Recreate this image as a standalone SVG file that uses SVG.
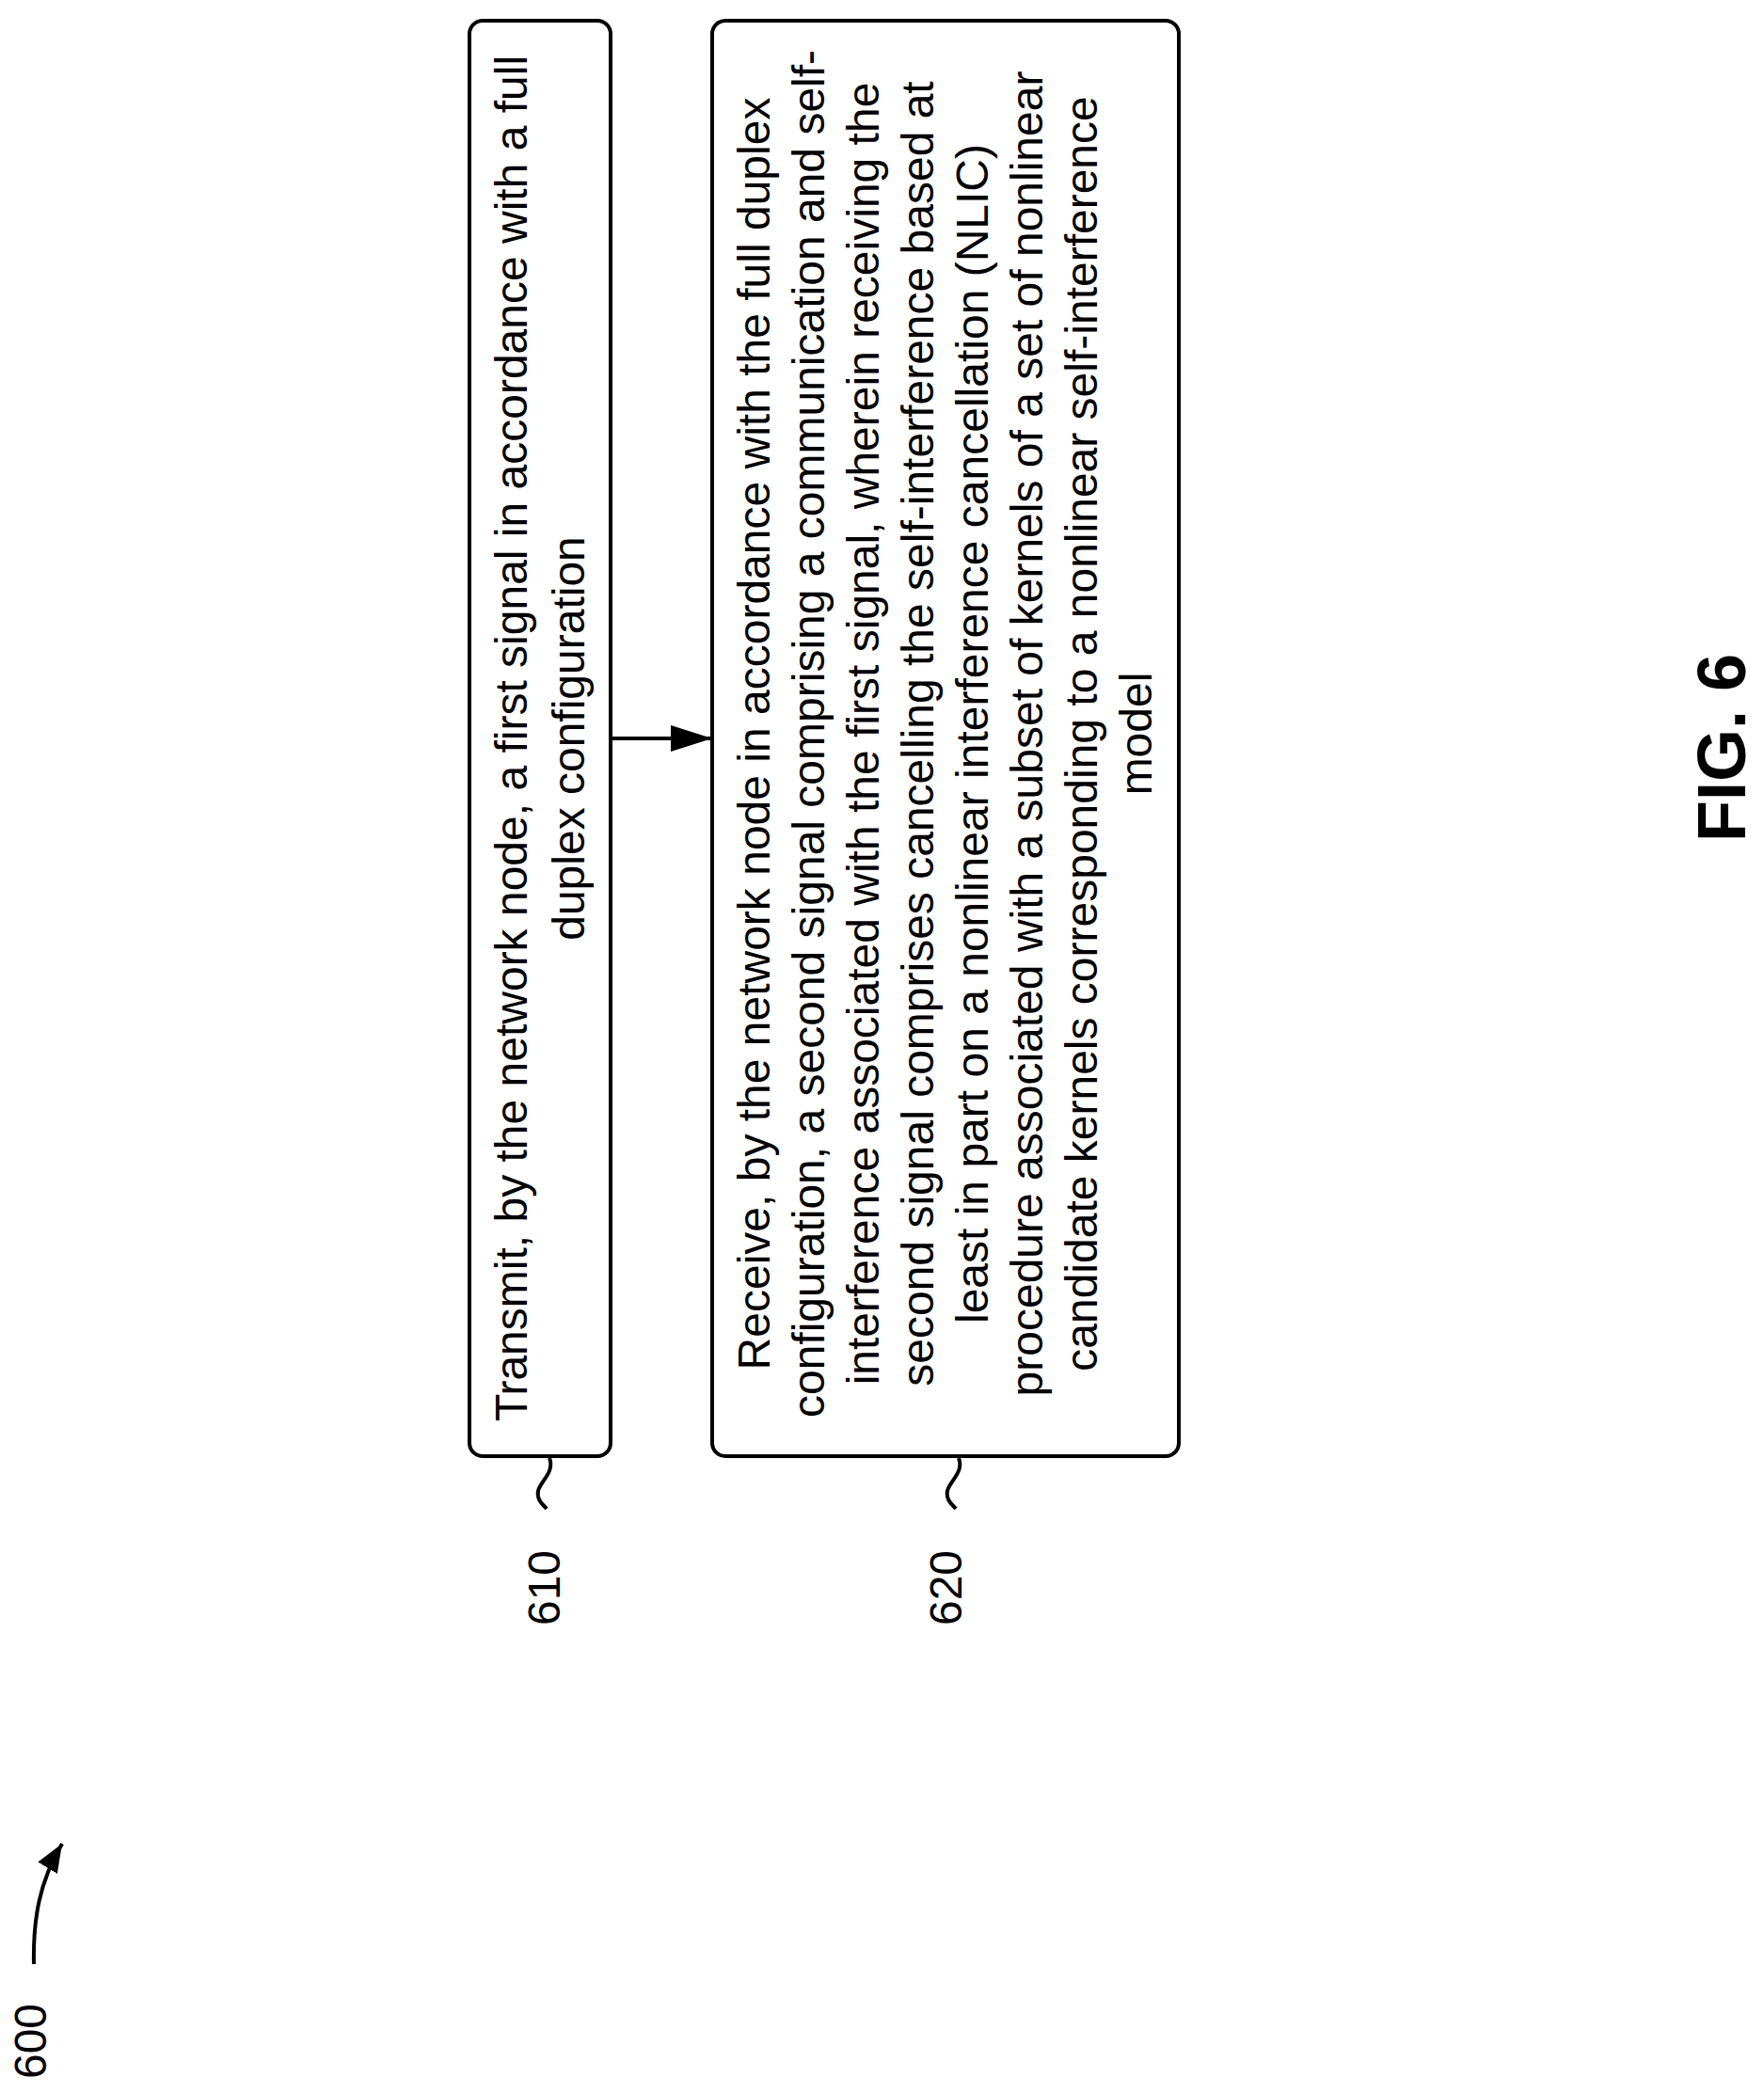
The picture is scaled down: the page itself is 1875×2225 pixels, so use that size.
<svg xmlns="http://www.w3.org/2000/svg" width="1875" height="2225" viewBox="0 0 1875 2225">
<style>
.box{fill:#fff;stroke:#000;stroke-width:4}
.t{font-family:"Liberation Sans",Arial,sans-serif;font-size:48px;fill:#000;text-anchor:middle}
.ln{fill:none;stroke:#000;stroke-width:4}
</style>
<defs>
<marker id="ah2" markerWidth="44" markerHeight="28" refX="44" refY="14" orient="auto" markerUnits="userSpaceOnUse"><path d="M0,0L44,14L0,28z" fill="#000"/></marker>
<marker id="ah3" markerWidth="30" markerHeight="24" refX="30" refY="12" orient="auto" markerUnits="userSpaceOnUse"><path d="M0,0L30,12L0,24z" fill="#000"/></marker>
</defs>
<g id="n610">
<rect class="box" x="499" y="22" width="150" height="1526" rx="14"/>
<g transform="translate(0,785) rotate(-90)">
<text class="t" x="0" y="560">Transmit, by the network node,  a first signal in accordance with a full</text>
<text class="t" x="0" y="621">duplex configuration</text>
</g>
</g>
<g id="n620">
<rect class="box" x="757" y="22" width="496" height="1526" rx="14"/>
<g transform="translate(0,780) rotate(-90)">
<text class="t" x="0" y="818">Receive, by the network node in accordance with the full duplex</text>
<text class="t" x="0" y="876">configuration, a second signal comprising a communication and self-</text>
<text class="t" x="0" y="934">interference associated with the first signal, wherein receiving the</text>
<text class="t" x="0" y="992">second signal comprises cancelling the self-interference based at</text>
<text class="t" x="0" y="1050">least in part on a nonlinear interference cancellation (NLIC)</text>
<text class="t" x="0" y="1108">procedure associated with a subset of kernels of a set of nonlinear</text>
<text class="t" x="0" y="1166">candidate kernels corresponding to a nonlinear self-interference</text>
<text class="t" x="0" y="1224">model</text>
</g>
</g>
<g id="labels">
<text class="t" transform="translate(595,1688) rotate(-90)" x="0" y="0">610</text>
<text class="t" transform="translate(1022,1688) rotate(-90)" x="0" y="0">620</text>
<text class="t" transform="translate(49,2170) rotate(-90)" x="0" y="0">600</text>
<text transform="translate(1855,795) rotate(-90)" x="0" y="0" style="font-family:'Liberation Sans',Arial,sans-serif;font-size:72px;font-weight:bold;text-anchor:middle">FIG. 6</text>
</g>
<g id="connectors">
<path class="ln" d="M649,785H757" marker-end="url(#ah2)"/>
<path class="ln" d="M584,1550C590,1565 574,1575 572,1585C570,1595 578,1600 581,1604"/>
<path class="ln" d="M1019,1550C1025,1565 1009,1575 1007,1585C1005,1595 1013,1600 1016,1604"/>
<path class="ln" d="M36,2088C35,2040 42,2000 66,1960" marker-end="url(#ah3)"/>
</g>
</svg>
